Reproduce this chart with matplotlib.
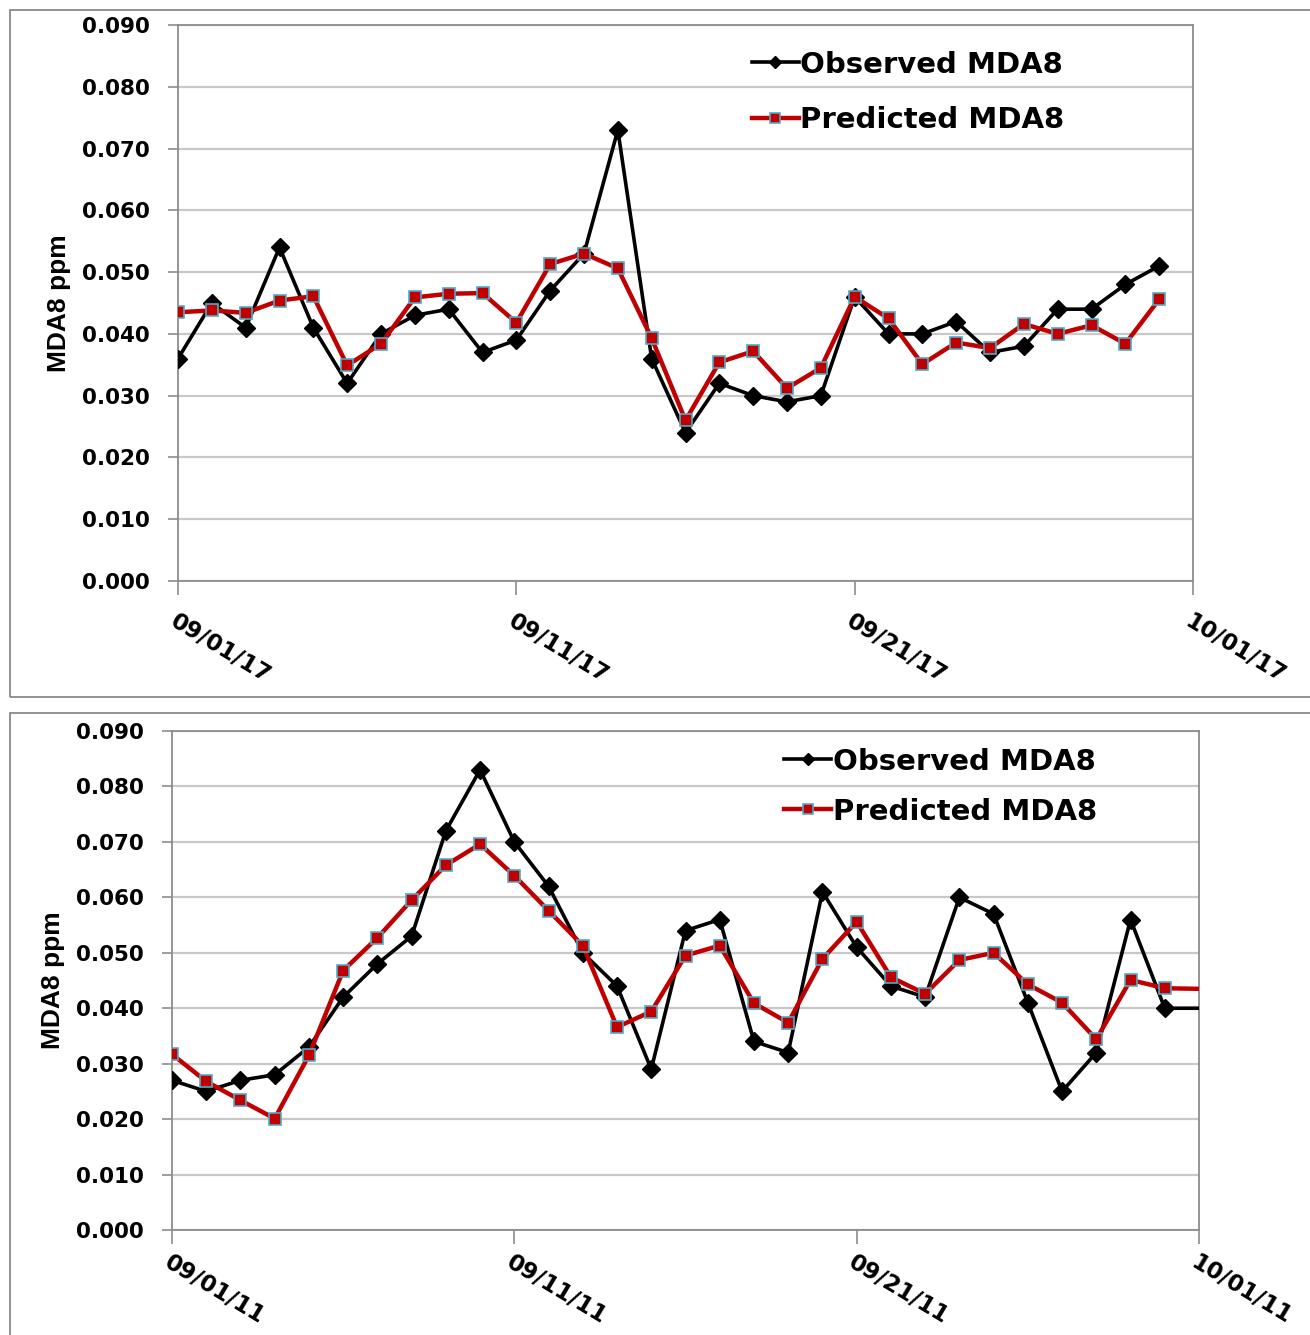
import matplotlib
matplotlib.use("Agg")
import matplotlib.pyplot as plt
import matplotlib.dates as mdates
import pandas as pd
from matplotlib.patches import Rectangle

# Sep 2017 daily values
dates_2017 = pd.date_range("2017-09-01", "2017-09-30", freq="D")
obs_2017 = [0.036, 0.045, 0.041, 0.054, 0.041, 0.032, 0.040, 0.043, 0.044, 0.037,
            0.039, 0.047, 0.053, 0.073, 0.036, 0.024, 0.032, 0.030, 0.029, 0.030,
            0.046, 0.040, 0.040, 0.042, 0.037, 0.038, 0.044, 0.044, 0.048, 0.051]
pred_2017 = [0.0435, 0.0438, 0.0434, 0.0454, 0.0461, 0.0349, 0.0384, 0.0459, 0.0465, 0.0466,
             0.0418, 0.0513, 0.0530, 0.0506, 0.0393, 0.0260, 0.0354, 0.0372, 0.0312, 0.0345,
             0.0460, 0.0425, 0.0351, 0.0386, 0.0377, 0.0416, 0.0400, 0.0414, 0.0384, 0.0456]

# Sep 2011 daily values (last entry is 10/01, line only)
dates_2011 = pd.date_range("2011-09-01", "2011-10-01", freq="D")
obs_2011 = [0.027, 0.025, 0.027, 0.028, 0.033, 0.042, 0.048, 0.053, 0.072, 0.083,
            0.070, 0.062, 0.050, 0.044, 0.029, 0.054, 0.056, 0.034, 0.032, 0.061,
            0.051, 0.044, 0.042, 0.060, 0.057, 0.041, 0.025, 0.032, 0.056, 0.040,
            0.040]
pred_2011 = [0.0317, 0.0268, 0.0234, 0.0201, 0.0315, 0.0468, 0.0527, 0.0595, 0.0658, 0.0696,
             0.0639, 0.0576, 0.0513, 0.0366, 0.0394, 0.0495, 0.0513, 0.0409, 0.0374, 0.0489,
             0.0556, 0.0456, 0.0426, 0.0487, 0.0500, 0.0443, 0.0410, 0.0344, 0.0451, 0.0436,
             0.0435]

yticks = [0.000, 0.010, 0.020, 0.030, 0.040, 0.050, 0.060, 0.070, 0.080, 0.090]

W, H = 1310, 1335
fig = plt.figure(figsize=(W / 100, H / 100), dpi=100)

# chart-area borders
fig.patches.append(Rectangle((10 / W, 1 - 697 / H), 1.2, 687 / H, transform=fig.transFigure,
                             fill=False, edgecolor="#7f7f7f", linewidth=1.2))
fig.patches.append(Rectangle((10 / W, -0.1), 1.2, 0.1 + 1 - 713 / H, transform=fig.transFigure,
                             fill=False, edgecolor="#7f7f7f", linewidth=1.2))


def draw_panel(rect, dates, obs, pred, start, leg_anchor, spacing, xpad, n_marked):
    ax = fig.add_axes(rect)
    ax.plot(dates, obs, color="black", lw=2.6, marker="D", ms=9.5,
            markevery=slice(0, n_marked), label="Observed MDA8", zorder=3)
    ax.plot(dates, pred, color="#c00000", lw=3.2, marker="s", ms=8.5,
            mfc="#c00000", mec="#4bacc6", mew=1.2,
            markevery=slice(0, n_marked), label="Predicted MDA8", zorder=4)
    ax.set_ylim(0, 0.09)
    ax.set_yticks(yticks)
    ax.set_yticklabels([f"{v:.3f}" for v in yticks], fontsize=15.5, fontweight="bold")
    ax.set_xlim(start, start + pd.Timedelta(days=30))
    ax.set_xticks([start + pd.Timedelta(days=d) for d in (0, 10, 20, 30)])
    ax.xaxis.set_major_formatter(mdates.DateFormatter("%m/%d/%y"))
    for lab in ax.get_xticklabels():
        lab.set_rotation(-31)
        lab.set_ha("left")
        lab.set_va("top")
        lab.set_rotation_mode("anchor")
        lab.set_fontsize(16.5)
        lab.set_fontweight("semibold")
    ax.grid(axis="y", color="#c8c8c8", lw=1.6)
    ax.set_axisbelow(True)
    for s in ax.spines.values():
        s.set_color("#8c8c8c")
        s.set_linewidth(1.3)
    ax.tick_params(axis="y", length=7, width=1.2, color="#8c8c8c", pad=13)
    ax.tick_params(axis="x", length=10, width=1.2, color="#8c8c8c", pad=xpad)
    ax.set_ylabel("MDA8 ppm", fontsize=19, fontweight="bold",
                  family="Liberation Sans", labelpad=8)
    leg = ax.legend(loc="upper left", bbox_to_anchor=leg_anchor, frameon=False,
                    prop={"size": 21, "weight": "bold"}, handlelength=1.6,
                    handletextpad=0.05, labelspacing=spacing, borderaxespad=0)
    for h in leg.legend_handles:
        h.set_markersize(6.5)
    return ax


draw_panel([178 / W, 1 - 581 / H, 1015 / W, 556 / H], dates_2017, obs_2017, pred_2017,
           pd.Timestamp("2017-09-01"), (0.554, 0.975), 0.95, 11, 30)
draw_panel([172 / W, 1 - 1230 / H, 1027 / W, 499 / H], dates_2011, obs_2011, pred_2011,
           pd.Timestamp("2011-09-01"), (0.585, 0.99), 0.75, 5, 30)

fig.savefig("out.png", dpi=100)
